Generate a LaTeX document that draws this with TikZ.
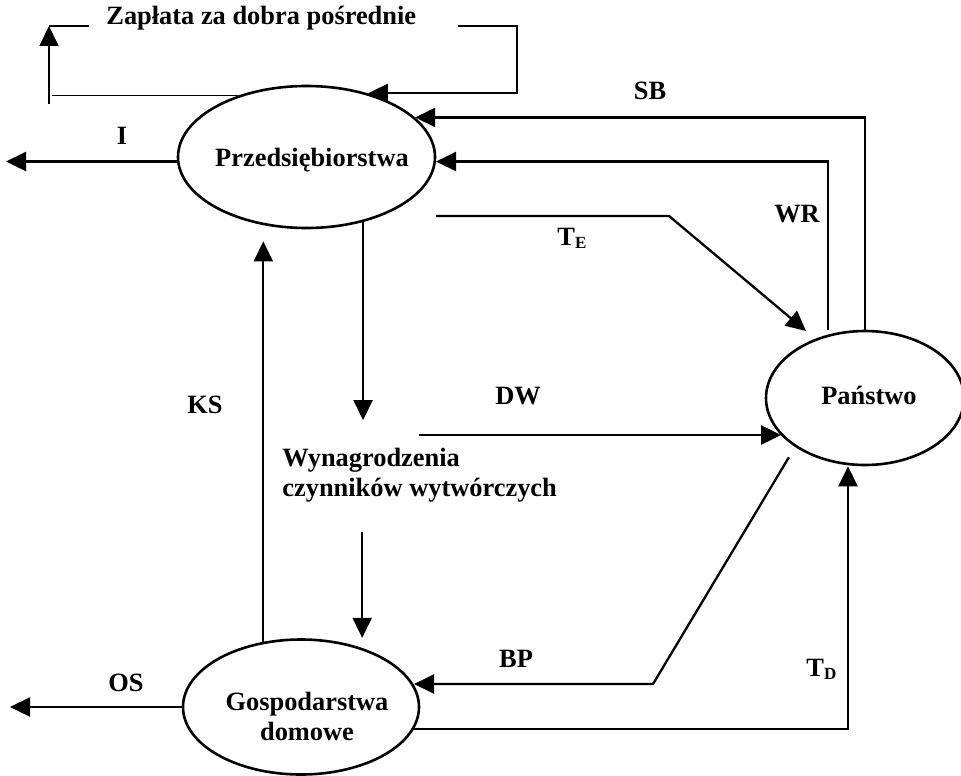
\documentclass[tikz,border=0pt]{standalone}
\usepackage{fontspec}
\setmainfont{Liberation Serif}
\usetikzlibrary{arrows.meta,shapes.geometric}
\begin{document}
\begin{tikzpicture}[x=0.5pt,y=-0.5pt,
  every node/.style={font=\fontsize{13.2}{15}\selectfont\bfseries, inner sep=0pt},
  oval/.style={draw, ellipse, line width=1.3pt, fill=white, inner sep=0pt},
  arr/.style={line width=1.15pt, -{Triangle[length=10pt,width=9.5pt]}},
  thinarr/.style={line width=0.85pt, -{Triangle[length=10pt,width=9.5pt]}},
  bline/.style={line width=0.85pt},
  lab/.style={anchor=base}
]
\useasboundingbox (0,0) rectangle (961,775);

% main ovals
\node[oval, minimum width=128.5pt, minimum height=71pt] (P) at (306.5,157) {};
\node[oval, minimum width=99pt, minimum height=67pt] (S) at (865,398) {};
\node[oval, minimum width=118pt, minimum height=67.5pt] (G) at (301,707) {};

% texts in ovals
\node[lab] (tP) at (312,167) {Przedsiębiorstwa};
\node[lab] (tS) at (869,404) {Państwo};
\node[align=center] (tG) at (307,716) {Gospodarstwa\\domowe};
\node[align=left, anchor=west] (W) at (282,475.5) {Wynagrodzenia\\czynników wytwórczych};

% labels
\node[anchor=base west] (tZ) at (106,25) {Zapłata za dobra pośrednie};
\node[lab] (lI) at (122,145) {I};
\node[lab] (lSB) at (650,100) {SB};
\node[lab] (lWR) at (797,222) {WR};
\node[anchor=base west] (lTE) at (557,245) {T\raisebox{-1.5pt}{\fontsize{8.5}{9}\selectfont E}};
\node[lab] (lKS) at (205,413) {KS};
\node[lab] (lDW) at (518,404) {DW};
\node[lab] (lBP) at (516,667) {BP};
\node[anchor=base west] (lTD) at (806,676) {T\raisebox{-1.5pt}{\fontsize{8.5}{9}\selectfont D}};
\node[lab] (lOS) at (126,691) {OS};

% free ends and bends
\coordinate (Itip) at (6,163);
\coordinate (OStip) at (10,707);
\coordinate (ZL1) at (52,97);
\coordinate (ZL2) at (49,104);
\coordinate (ZL3) at (49,26);
\coordinate (ZL4) at (89,26);
\coordinate (ZR1) at (458,26);
\coordinate (ZR2) at (517,26);
\coordinate (TEs) at (436,216);
\coordinate (TEb) at (669,216);
\coordinate (DWs) at (419,435);
\coordinate (WRx) at (828,0);
\coordinate (BPc) at (653,684);
\coordinate (TDx) at (848,0);

% payment for intermediate goods
\draw[bline] (P.138.9) -- (P.138.9 -| ZL1);
\draw[thinarr] (ZL2) -- (ZL3);
\draw[bline] (ZL3) -- (ZL4);
\draw[thinarr] (ZR1) -- (ZR2) |- (P.46.7);

% firms
\draw[arr] (P.182.7) -- (P.182.7 -| Itip);
\draw[arr] (S.north) |- (P.20.6);
\draw[arr] (S.north -| WRx) |- (P.-2.7);
\draw[arr, shorten >=6pt] (TEs) -- (TEb) -- (S.130);
\draw[arr] (DWs) -- (DWs -| S.204.15);

% wages
\draw[arr, shorten >=14pt] (P.-49.07) -- (P.-49.07 |- W.north);
\draw[thinarr, shorten <=14.5pt, shorten >=5pt] (W.south -| G.44.08) -- (G.44.08);

% households
\draw[thinarr, shorten >=6pt] (G.120.7) -- (G.120.7 |- P.south);
\draw[arr] (G.west) -- (G.west -| OStip);
\draw[arr, shorten <=6pt] (S.215) -- (BPc) -- (BPc -| G.11.7);
\draw[arr] (G.-11.7) -| (S.south -| TDx);
\end{tikzpicture}
\end{document}
